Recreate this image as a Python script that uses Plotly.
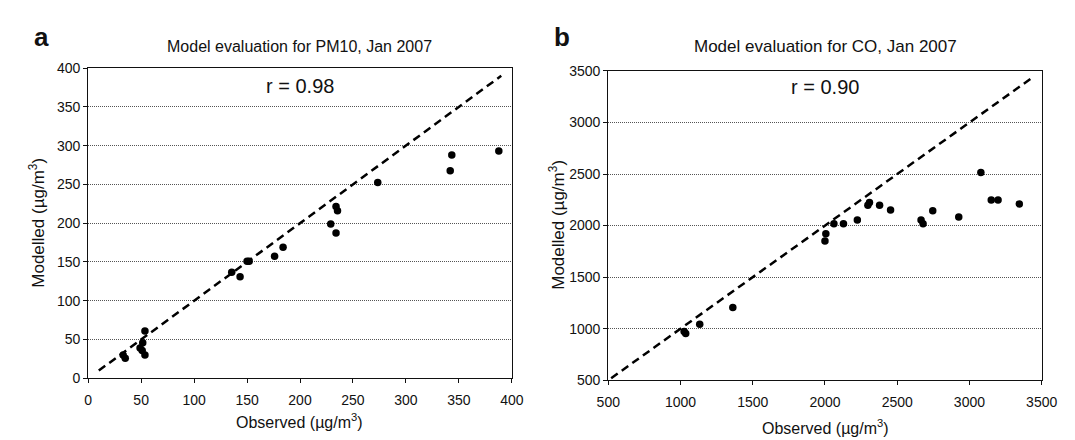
import plotly.graph_objects as go

# Panel a: PM10
pm10_obs = [33, 35, 49, 51, 51.5, 53.6, 53.6, 135.5, 143.4, 150, 152, 176, 184,
            229, 234, 234, 235.4, 273.4, 341.8, 343.3, 387.7]
pm10_mod = [30, 26, 39, 36, 46, 61, 30, 136.7, 131, 151, 151, 157.5, 169,
            199, 187.5, 221.6, 216, 252.5, 267.5, 288, 293]
pm10_line = [10, 390]

# Panel b: CO
co_obs = [1025, 1036, 1133, 1362, 2000, 2006, 2062, 2128, 2224, 2297, 2308, 2378,
          2454, 2665, 2679, 2746, 2926, 3079, 3151, 3198, 3345]
co_mod = [973, 954, 1044, 1206, 1850, 1921, 2018, 2018, 2055, 2198, 2223, 2198,
          2152, 2055, 2018, 2143, 2084, 2516, 2248, 2248, 2210]
co_line = [520, 3440]

pm10_ticks = [0, 50, 100, 150, 200, 250, 300, 350, 400]
co_ticks = [500, 1000, 1500, 2000, 2500, 3000, 3500]

W, H = 1075, 440
FONT = "Liberation Sans, Arial, sans-serif"


def px(x):
    return x / W


def py(y):
    return 1 - y / H


fig = go.Figure()

fig.add_trace(go.Scatter(x=pm10_line, y=pm10_line, mode="lines",
                         line=dict(color="black", width=2.5, dash="8px,5px"),
                         xaxis="x", yaxis="y", showlegend=False))
fig.add_trace(go.Scatter(x=pm10_obs, y=pm10_mod, mode="markers",
                         marker=dict(color="black", size=7.5),
                         xaxis="x", yaxis="y", showlegend=False))
fig.add_trace(go.Scatter(x=co_line, y=co_line, mode="lines",
                         line=dict(color="black", width=2.5, dash="8px,5px"),
                         xaxis="x2", yaxis="y2", showlegend=False))
fig.add_trace(go.Scatter(x=co_obs, y=co_mod, mode="markers",
                         marker=dict(color="black", size=7.5),
                         xaxis="x2", yaxis="y2", showlegend=False))

axis_common = dict(showline=True, linecolor="#111", linewidth=1.2, mirror=True,
                   ticks="outside", ticklen=4, tickcolor="#111",
                   tickfont=dict(family=FONT, size=14, color="#111"),
                   zeroline=False)
grid = dict(showgrid=True, gridcolor="#555", griddash="1px,1px", gridwidth=1)

fig.update_layout(
    width=W, height=H,
    margin=dict(l=0, r=0, t=0, b=0),
    paper_bgcolor="white", plot_bgcolor="white",
    font=dict(family=FONT, color="#111"),
    xaxis=dict(domain=[px(70), px(505)], range=[0, 400], tickvals=pm10_ticks,
               showgrid=False, anchor="y", ticklabelstandoff=5, **axis_common),
    yaxis=dict(domain=[py(376), py(54)], range=[0, 400], tickvals=pm10_ticks,
               anchor="x", **grid, **axis_common),
    xaxis2=dict(domain=[px(604), px(1049)], range=[500, 3500], tickvals=co_ticks,
                showgrid=False, anchor="y2", ticklabelstandoff=5, **axis_common),
    yaxis2=dict(domain=[py(378), py(57)], range=[500, 3500], tickvals=co_ticks,
                anchor="x2", **grid, **axis_common),
)

ann = [
    dict(text="<b>a</b>", x=px(22), y=py(22), size=26),
    dict(text="<b>b</b>", x=px(557), y=py(22), size=26),
    dict(text="Model evaluation for PM10, Jan 2007", x=px(287), y=py(32), size=16),
    dict(text="Model evaluation for CO, Jan 2007", x=px(827), y=py(32), size=17),
    dict(text="r = 0.98", x=px(287), y=py(73), size=20),
    dict(text="r = 0.90", x=px(827), y=py(74), size=20),
    dict(text="Observed (µg/m<sup>3</sup>)", x=px(287), y=py(420), size=16),
    dict(text="Observed (µg/m<sup>3</sup>)", x=px(827), y=py(427), size=16),
]
for a in ann:
    fig.add_annotation(text=a["text"], x=a["x"], y=a["y"], xref="paper", yref="paper",
                       showarrow=False, xanchor="center", yanchor="middle",
                       font=dict(family=FONT, size=a["size"], color="#111"))

for xx, yy in [(18, 215), (551, 217)]:
    fig.add_annotation(text="Modelled (µg/m<sup>3</sup>)", x=px(xx), y=py(yy),
                       xref="paper", yref="paper", showarrow=False, textangle=-90,
                       xanchor="center", yanchor="middle",
                       font=dict(family=FONT, size=17, color="#111"))

fig.write_html("out.html")
